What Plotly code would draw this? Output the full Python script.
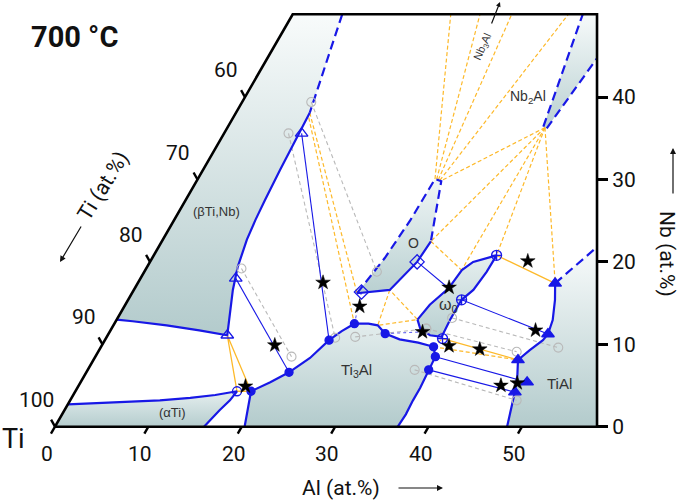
import plotly.graph_objects as go

# ---------------- geometry of the partial ternary (Ti corner bottom-left) ----------------
K = 0.5085          # horizontal shift per at.% Nb (ternary shear as drawn)
NB_TOP = 50.05      # Nb at the top edge
X_RIGHT = 58.03     # cartesian x of the right (Nb) axis

def cx(al, nb):
    return [a + K * n for a, n in zip(al, nb)]

# ---------------- phase fields (Al at.%, Nb at.%) ----------------
beta_al = [0.0, 0.0, 5.3, 7.9, 8.0, 8.25, 8.5, 8.7, 9.0, 9.7, 10.6, 11.7, 12.8, 9.5, 5.7, 1.8, 0.0]
beta_nb = [13.0, NB_TOP, NB_TOP, 38.1, 36.0, 31.15, 27.5, 25.1, 22.7, 19.4, 16.6, 13.8, 11.1, 11.7, 12.3, 12.8, 13.0]

alpha_al = [0.0, 0.0, 3.4, 6.5, 9.6, 12.7, 15.2, 17.3, 17.1, 16.6, 16.3, 15.95, 0.0]
alpha_nb = [0.0, 2.7, 2.9, 3.1, 3.2, 3.5, 3.85, 4.3, 3.2, 2.0, 1.1, 0.0, 0.0]

ti3al_al = [20.3, 19.4, 18.8, 20.3, 21.7, 23.06, 24.0, 24.8, 25.7, 27.2, 28.3, 29.6, 31.5, 33.7, 35.6, 36.4, 36.5, 36.7, 36.7, 36.8, 36.7, 20.3]
ti3al_nb = [0.0, 2.6, 4.3, 5.4, 6.6, 8.34, 10.5, 11.6, 12.5, 12.5, 12.3, 11.3, 10.6, 10.2, 9.7, 8.5, 6.9, 4.7, 3.2, 1.5, 0.0, 0.0]

o_al = [25.4, 26.2, 28.8, 28.6, 27.4, 24.1, 24.9, 25.3, 25.4]
o_nb = [30.06, 29.8, 22.5, 20.0, 16.6, 16.2, 20.5, 25.1, 30.06]

w0_al = [32.2, 32.6, 33.6, 33.9, 34.6, 36.7, 36.65, 36.35, 35.7, 35.7, 35.85, 34.5, 33.05, 32.2]
w0_nb = [13.0, 14.8, 16.8, 19.0, 20.0, 20.8, 18.8, 16.6, 15.4, 12.95, 10.9, 11.1, 11.9, 13.0]

tial_al = [48.4, 47.7, 47.1, 46.3, 45.45, 46.1, 46.9, 47.06, 46.7, 45.7, 44.7, 46.94, 58.03, 48.4]
tial_nb = [0.0, 2.4, 4.2, 6.3, 8.1, 9.3, 10.5, 11.25, 12.95, 15.4, 17.4, 21.81, 0.0, 0.0]

nb2al_al = [33.77, 31.05, 32.58, 35.29, 34.23, 33.77]
nb2al_nb = [36.41, NB_TOP, NB_TOP, 44.71, 36.21, 36.41]

# ---------------- phase boundaries ----------------
solid_bounds = [
    ([7.9, 8.0, 8.25, 8.5, 8.7, 9.0, 9.7, 10.6, 11.7, 12.8, 9.5, 5.7, 1.8, 0.0],
     [38.1, 36.0, 31.15, 27.5, 25.1, 22.7, 19.4, 16.6, 13.8, 11.1, 11.7, 12.3, 12.8, 13.0]),
    ([0.0, 3.4, 6.5, 9.6, 12.7, 15.2, 17.3, 17.1, 16.6, 16.3, 15.95],
     [2.7, 2.9, 3.1, 3.2, 3.5, 3.85, 4.3, 3.2, 2.0, 1.1, 0.0]),
    (ti3al_al[:-1], ti3al_nb[:-1]),
    ([28.8, 28.6, 27.4, 24.1], [22.5, 20.0, 16.6, 16.2]),
    (w0_al, w0_nb),
    (tial_al[:11], tial_nb[:11]),
]
dashed_bounds = [
    ([5.3, 7.9], [NB_TOP, 38.1]),
    ([24.1, 24.9, 25.3, 25.4, 26.2, 28.8], [16.2, 20.5, 25.1, 30.06, 29.8, 22.5]),
    ([44.7, 46.94], [17.4, 21.81]),
    ([33.77, 31.05], [36.41, NB_TOP]),
    ([34.23, 35.29], [36.21, 44.71]),
]

# ---------------- tie lines / tie triangles ----------------
yellow_dashed = [
    ([25.4, 16.92], [30.06, NB_TOP]), ([25.6, 20.05], [30.0, NB_TOP]),
    ([25.8, 23.45], [29.95, NB_TOP]), ([26.0, 29.51], [29.9, NB_TOP]),
    ([34.0, 26.1], [36.3, 29.8]), ([34.0, 28.8], [36.3, 22.5]),
    ([34.0, 33.87], [36.3, 19.0]), ([34.0, 36.7], [36.3, 20.8]),
    ([34.0, 44.7], [36.3, 17.4]),
    ([28.8, 33.87], [22.5, 19.0]),
    ([27.4, 28.3, 32.2, 27.4], [16.6, 12.3, 13.0, 16.6]),
    ([8.1, 25.7], [37.5, 12.5]), ([7.9, 24.1], [38.1, 16.2]),
    ([35.6, 45.45], [9.7, 8.1]), ([35.6, 36.05], [9.7, 10.7]),
]
yellow_solid = [
    ([36.7, 44.7], [20.8, 17.4]),
    ([36.05, 45.45], [10.7, 8.1]),
    ([12.8, 17.3, 18.8, 12.8], [11.1, 4.3, 4.3, 11.1]),
]
blue_ties = [
    ([10.2, 21.7], [18.0, 6.6]),
    ([8.3, 24.0], [35.6, 10.5]),
    ([28.6, 33.6], [20.0, 16.8]),
    ([35.7, 47.06], [15.4, 11.25]),
    ([36.4, 46.7], [8.5, 5.7]),
    ([36.5, 47.1], [6.9, 4.2]),
]
blue_dotted = [
    ([24.5, 25.7], [16.35, 12.5]),
    ([29.6, 33.5], [11.3, 11.5]),
]
grey_ties = [
    ([10.2, 21.0], [19.2, 8.5]),
    ([7.4, 24.9], [39.4, 18.8]),
    ([6.9, 24.5], [35.6, 10.8]),
    ([26.6, 33.7], [10.9, 11.9]),
    ([33.7, 44.8], [11.9, 9.1]),
    ([35.8, 49.0], [13.2, 9.6]),
    ([35.0, 47.8], [6.9, 3.2]),
]

# ---------------- measured phase compositions ----------------
beta_pts_al, beta_pts_nb = [10.2, 8.3, 12.8], [18.0, 35.6, 11.1]
alpha_pts_al, alpha_pts_nb = [17.3], [4.3]
ti3al_pts_al = [18.8, 21.7, 24.0, 25.7, 29.6, 35.6, 36.4, 36.5]
ti3al_pts_nb = [4.3, 6.6, 10.5, 12.5, 11.3, 9.7, 8.5, 6.9]
o_pts_al, o_pts_nb = [28.6, 24.5], [20.0, 16.35]
w0_pts_al, w0_pts_nb = [36.7, 35.7, 36.05], [20.8, 15.4, 10.7]
tial_pts_al = [44.7, 47.06, 45.45, 47.1, 47.8]
tial_pts_nb = [17.4, 11.25, 8.1, 4.2, 5.4]
alloy_al = [18.5, 17.9, 19.8, 25.2, 33.6, 40.4, 45.5, 33.5, 37.2, 40.7, 45.2, 46.8]
alloy_nb = [9.9, 4.9, 17.5, 14.6, 16.9, 20.1, 11.7, 11.5, 9.8, 9.4, 5.0, 5.3]

# ---------------- axes ----------------
al_ticks = [0, 10, 20, 30, 40, 50]
ti_ticks = [100, 90, 80, 70, 60]
nb_ticks = [0, 10, 20, 30, 40]

BLUE = '#1818e6'
YEL = '#fdb92a'
GREY = '#b9b9b9'

fig = go.Figure()

def fill(al, nb, c0, c1):
    fig.add_trace(go.Scatter(x=cx(al, nb), y=nb, mode='lines', fill='toself',
                             line=dict(width=0, color='rgba(0,0,0,0)'),
                             fillgradient=dict(type='vertical', colorscale=[[0, c0], [1, c1]]),
                             hoverinfo='skip', showlegend=False))

fill(beta_al, beta_nb, '#b3cbcc', '#f8fbfb')
fill(alpha_al, alpha_nb, '#b5cdce', '#e6efef')
fill(ti3al_al, ti3al_nb, '#b3cbcc', '#e3eded')
fill(o_al, o_nb, '#b9d0d1', '#f0f6f6')
fill(w0_al, w0_nb, '#b9d0d1', '#e6efef')
fill(tial_al, tial_nb, '#b3cbcc', '#f8fbfb')
fill(nb2al_al, nb2al_nb, '#b9d0d1', '#f6fafa')

def seg(al, nb, color, width, dash='solid'):
    fig.add_trace(go.Scatter(x=cx(al, nb), y=nb, mode='lines',
                             line=dict(color=color, width=width, dash=dash),
                             hoverinfo='skip', showlegend=False))

for al, nb in grey_ties:
    seg(al, nb, GREY, 1.1, '4px,3px')
for al, nb in yellow_dashed:
    seg(al, nb, YEL, 1.2, '4px,2.5px')
for al, nb in yellow_solid:
    seg(al, nb, YEL, 1.3)
for al, nb in blue_ties:
    seg(al, nb, BLUE, 1.1)
for al, nb in blue_dotted:
    seg(al, nb, '#6a6af0', 1.1, 'dot')
for al, nb in solid_bounds:
    seg(al, nb, BLUE, 2.2)
for al, nb in dashed_bounds:
    seg(al, nb, BLUE, 2.2, '9px,5px')

# frame
frame_al = [0, 0, X_RIGHT - K * NB_TOP, X_RIGHT, 0]
frame_nb = [0, NB_TOP, NB_TOP, 0, 0]
seg(frame_al, frame_nb, 'black', 2.6)

# slanted ternary ticks
for a in al_ticks:
    seg([a, a], [0, -0.85], 'black', 2.4)
for t in ti_ticks:
    n = 100 - t
    seg([0, -0.85], [n, n + 0.85], 'black', 2.4)

# grey reference points
gx, gy = [], []
for al, nb in grey_ties:
    gx += al
    gy += nb
fig.add_trace(go.Scatter(x=cx(gx, gy), y=gy, mode='markers',
                         marker=dict(symbol='circle-open', size=9, color=GREY, line=dict(width=1.1)),
                         hoverinfo='skip', showlegend=False))

def pts(al, nb, symbol, size, color, lw=1.3):
    fig.add_trace(go.Scatter(x=cx(al, nb), y=nb, mode='markers',
                             marker=dict(symbol=symbol, size=size, color=color, line=dict(width=lw, color=color)),
                             hoverinfo='skip', showlegend=False))

pts(beta_pts_al, beta_pts_nb, 'triangle-up-open', 11, BLUE)
pts(alpha_pts_al, alpha_pts_nb, 'circle-open', 9, BLUE)
pts(ti3al_pts_al, ti3al_pts_nb, 'circle', 8, BLUE)
pts(o_pts_al, o_pts_nb, 'diamond-open', 11, BLUE)
pts(w0_pts_al, w0_pts_nb, 'circle-cross-open', 10, BLUE)
pts(tial_pts_al, tial_pts_nb, 'triangle-up', 11, BLUE)
pts(alloy_al, alloy_nb, 'star', 11, 'black', 0.5)

# ---------------- text ----------------
ann = []
AX = "Roboto"
LAB = "Liberation Sans"
for a in al_ticks:
    ann.append(dict(x=a, y=0, text=str(a), showarrow=False, xshift=-8, yshift=-27,
                    xanchor='center', yanchor='middle',
                    font=dict(family=AX, size=21, color='#111')))
for t in ti_ticks:
    n = 100 - t
    ann.append(dict(x=K * n, y=n, text=str(t), showarrow=False, xshift=-19, yshift=27,
                    xanchor='center', yanchor='middle',
                    font=dict(family=AX, size=21, color='#111')))

def lab(al, nb, text, size=14, angle=0, family=LAB, color='#333'):
    ann.append(dict(x=al + K * nb, y=nb, text=text, showarrow=False, textangle=angle,
                    xanchor='center', yanchor='middle',
                    font=dict(family=family, size=size, color=color)))

lab(4.04, 26.09, '(βTi,Nb)', 13)
lab(11.72, 1.78, '(αTi)', 13)
lab(28.8, 6.88, 'Ti<sub>3</sub>Al', 15)
lab(27.0, 22.29, 'O', 14)
lab(34.63, 14.65, 'ω<sub>0</sub>', 16)
lab(51.37, 5.30, 'TiAl', 15)
lab(30.27, 40.05, 'Nb<sub>2</sub>Al', 14)
lab(22.39, 46.08, 'Nb<sub>3</sub>Al', 11, -66)

# titles and arrows outside the plotting range -> paper coordinates
PL, PW, PB, PH = 40, 570, 440, 435   # plot area: left px, width, bottom px, height

def px(x):
    return (x - PL) / PW

def py(y):
    return (PB - y) / PH

def title(x, y, text, size=21, angle=0, bold=False):
    ann.append(dict(xref='paper', yref='paper', x=px(x), y=py(y), text=text, showarrow=False,
                    textangle=angle, xanchor='center', yanchor='middle',
                    font=dict(family=AX, size=size, color='#111', weight='bold' if bold else 'normal')))

def arrow(x, y, ax, ay, size=1.0):
    ann.append(dict(xref='paper', yref='paper', x=px(x), y=py(y), ax=ax, ay=ay, text='',
                    showarrow=True, arrowhead=2, arrowsize=size, arrowwidth=1.2, arrowcolor='#111'))

title(74, 37, '700 °C', 29, bold=True)
title(13, 439, 'Ti', 27)
title(341, 488, 'Al (at.%)', 21)
title(667, 254, 'Nb (at.%)', 21, angle=90)
title(103, 186, 'Ti (at.%)', 21, angle=-58)
arrow(443, 488, -46, 0)
arrow(673, 148, 0, 47)
arrow(60, 262, 22, -37)
arrow(500, 2, -9, 23, 0.8)

fig.update_layout(
    width=685, height=503,
    margin=dict(l=40, r=75, t=5, b=63),
    plot_bgcolor='white', paper_bgcolor='white',
    showlegend=False,
    annotations=ann,
    xaxis=dict(range=[-1.606, 59.42], visible=False, fixedrange=True),
    yaxis=dict(range=[-1.614, 51.18], side='right', anchor='free', position=(597 - 40) / 570,
               tickvals=nb_ticks, ticktext=[str(v) for v in nb_ticks],
               ticks='outside', ticklen=10, tickwidth=2.5, tickcolor='black',
               showline=False, showgrid=False, zeroline=False, fixedrange=True,
               tickfont=dict(family=AX, size=21, color='#111')),
)

fig.write_html("out.html", config={'displayModeBar': False},
               post_script="document.body.style.margin='0px';document.body.style.overflow='hidden';")
